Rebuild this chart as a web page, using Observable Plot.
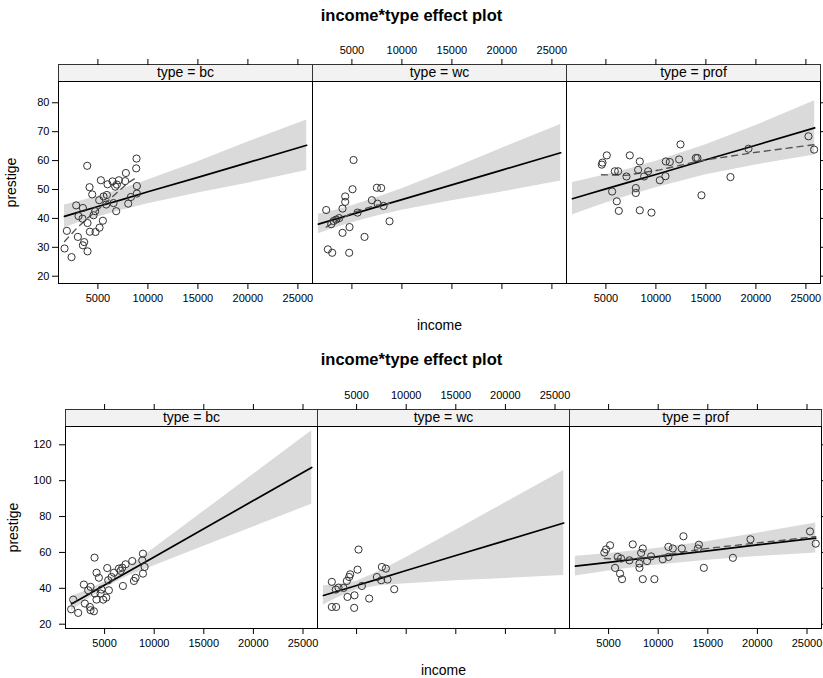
<!DOCTYPE html>
<html><head><meta charset="utf-8">
<script src="https://cdn.jsdelivr.net/npm/d3@7"></script>
<script src="https://cdn.jsdelivr.net/npm/@observablehq/plot@0.6"></script>
<style>
body{margin:0;background:#fff;font-family:"Liberation Sans",Arial,Helvetica,sans-serif;}
#fig{position:relative;width:823px;height:678px;overflow:hidden;background:#fff;}
.title{position:absolute;left:0;width:823px;text-align:center;font-weight:bold;font-size:16.5px;line-height:20px;color:#000;}
</style></head><body><div id="fig"></div><script>
// ---------------- data ----------------
const types = ["bc", "wc", "prof"];
const stripLabels = ["type = bc", "type = wc", "type = prof"];
const titleText = "income*type effect plot";
const xLabel = "income";
const yLabel = "prestige";
const xTicks = [5000, 10000, 15000, 20000, 25000];
const yTicksTop = [20, 30, 40, 50, 60, 70, 80];
const yTicksBottom = [20, 40, 60, 80, 100, 120];
const gridIncome = [1656, 3000, 5000, 7500, 10000, 15000, 20000, 25879];

// upper figure: fitted effect and confidence band
const fitTopBc = [40.7, 42.1, 44.1, 46.6, 49.2, 54.2, 59.3, 65.3];
const loTopBc  = [36.8, 38.4, 40.5, 42.9, 45.1, 48.8, 52.2, 56.6];
const hiTopBc  = [44.6, 45.8, 47.7, 50.3, 53.3, 59.6, 66.4, 74.0];
const fitTopWc = [38.0, 39.4, 41.4, 44.0, 46.5, 51.6, 56.7, 62.7];
const loTopWc  = [34.7, 36.3, 38.5, 40.8, 42.8, 46.1, 49.1, 52.9];
const hiTopWc  = [41.4, 42.5, 44.4, 47.2, 50.3, 57.1, 64.3, 72.5];
const fitTopProf = [46.8, 48.2, 50.2, 52.7, 55.2, 60.3, 65.3, 71.3];
const loTopProf  = [41.2, 42.9, 45.3, 48.1, 50.6, 55.1, 58.5, 61.9];
const hiTopProf  = [52.4, 53.5, 55.1, 57.3, 59.8, 65.5, 72.1, 80.7];

// lower figure: fitted effect and confidence band
const fitBotBc = [31.3, 35.5, 41.8, 49.7, 57.5, 73.2, 88.9, 107.4];
const loBotBc  = [27.3, 32.6, 40.2, 47.1, 52.6, 63.5, 74.2, 86.9];
const hiBotBc  = [35.4, 38.4, 43.5, 52.3, 62.4, 82.9, 103.6, 127.9];
const fitBotWc = [36.0, 38.2, 41.6, 45.7, 49.9, 58.3, 66.6, 76.4];
const loBotWc  = [30.7, 34.5, 39.2, 41.5, 42.6, 44.2, 45.5, 47.1];
const hiBotWc  = [41.4, 42.0, 44.0, 49.9, 57.2, 72.4, 87.7, 105.7];
const fitBotProf = [52.4, 53.2, 54.5, 56.1, 57.7, 60.9, 64.2, 68.0];
const loBotProf  = [46.9, 48.0, 49.6, 51.4, 53.0, 55.7, 57.7, 59.7];
const hiBotProf  = [57.9, 58.4, 59.4, 60.8, 62.4, 66.1, 70.7, 76.4];

// smoothers of partial residuals (dashed)
const smoothTopBc = [[1663,32.0],[2800,36.3],[4000,40.2],[5500,44.5],[7000,49.2],[8000,52.3],[8897,54.2]];
const smoothTopWc = [[2430,37.0],[3500,39.3],[5000,41.8],[6300,43.4],[7500,44.6],[8760,45.2]];
const smoothTopProf = [[4560,55.1],[7050,54.9],[10390,56.8],[14720,60.1],[20060,62.9],[25823,65.5]];
const smoothBotProf = [[4572,56.6],[7000,56.2],[10000,58.0],[14600,62.0],[20000,65.3],[25880,68.8]];

// partial residuals [income, prestige]
const resTopBc = [[1663,29.6],[1897,35.7],[2363,26.6],[2830,44.5],[3063,40.8],[2997,33.6],[3497,43.6],[3463,39.9],[3630,31.8],[3497,30.7],[3963,38.4],[3963,28.6],[3930,58.2],[4163,50.8],[4430,48.3],[4197,35.4],[4563,41.1],[4730,42.5],[4763,35.3],[5163,36.8],[5297,53.2],[5130,46.3],[5497,39.2],[5563,47.6],[5897,48.1],[5830,44.8],[5963,51.8],[6463,52.8],[6563,45.3],[6830,42.5],[6897,51.7],[7097,53.2],[6730,51.0],[7797,55.7],[7730,52.9],[8030,45.1],[8297,47.4],[8863,60.7],[8830,57.3],[8897,51.2],[8897,48.6]];
const resTopWc = [[5163,60.2],[2430,42.9],[5063,50.1],[4330,47.6],[4330,45.7],[4063,43.4],[3730,40.1],[3163,39.1],[2930,38.0],[5563,42.0],[7497,50.6],[7930,50.5],[6997,46.3],[7563,45.1],[8163,44.3],[8763,39.0],[4763,37.0],[4063,35.0],[6263,33.6],[2597,29.3],[3030,28.1],[4730,28.1],[3430,39.6]];
const resTopProf = [[5090,61.8],[4657,59.3],[4590,58.6],[7390,61.8],[8390,59.7],[5890,56.3],[6223,56.3],[7057,54.5],[8223,56.8],[9223,56.3],[8823,54.5],[5623,49.3],[7990,50.5],[7990,48.8],[6090,45.9],[6290,42.6],[8390,42.8],[9557,42.0],[10390,53.2],[10957,54.6],[10990,59.7],[11390,59.5],[12323,60.4],[12457,65.6],[13990,60.9],[14157,60.9],[14557,48.0],[17457,54.3],[19257,64.1],[25257,68.4],[25823,63.8]];
const resBotBc = [[3987,57.1],[8865,59.3],[8797,55.6],[7788,55.2],[7115,53.4],[5265,51.3],[6443,51.0],[6779,51.5],[6611,49.7],[5938,48.7],[4188,48.7],[4424,45.9],[9033,51.9],[8865,48.2],[8125,45.8],[7956,44.1],[5702,46.3],[5366,44.5],[6846,41.3],[2910,42.1],[3583,40.8],[3348,38.9],[4020,37.1],[4693,39.3],[4592,37.1],[5433,38.9],[4188,33.7],[4861,33.7],[5164,34.8],[1834,33.7],[3011,31.5],[3516,29.6],[3583,27.8],[1632,28.3],[3920,27.2],[2338,26.3]];
const resBotWc = [[5194,61.6],[2503,43.6],[5093,50.4],[4353,47.8],[4252,46.3],[4017,44.1],[3680,40.2],[3176,40.4],[2906,39.3],[5530,41.3],[7549,51.9],[7953,51.0],[7044,46.3],[7481,44.5],[8121,44.9],[8793,39.5],[4790,36.1],[4084,35.2],[6270,34.3],[2503,29.6],[2940,29.6],[4757,29.1]];
const resBotProf = [[5147,64.0],[4743,61.7],[4572,59.9],[7437,64.5],[8446,62.2],[8278,59.7],[5923,57.5],[6257,56.6],[7101,55.6],[8110,53.8],[8110,51.4],[8880,55.2],[9283,57.8],[5651,51.4],[6155,48.2],[6357,45.1],[8446,45.1],[9617,45.1],[10464,56.2],[11029,57.5],[11029,63.1],[11473,62.2],[12381,62.2],[12543,69.0],[14100,64.3],[14000,62.2],[14600,51.4],[17527,57.0],[19300,67.3],[25300,71.7],[25880,64.9]];

// ---------------- drawing ----------------
const FONT = '"Liberation Sans", Arial, Helvetica, sans-serif';
const TICK_FS = 11;
const fig = document.getElementById("fig");
const xDomain = [1060, 26460];
const fmt = d => String(d);
const blank = () => "";

function band(fit, lo, hi) {
  return gridIncome.map((x, i) => ({x, fit: fit[i], lo: lo[i], hi: hi[i]}));
}
function place(el, left, top) {
  el.style.position = "absolute";
  el.style.left = left + "px";
  el.style.top = top + "px";
  fig.appendChild(el);
}
function addTitle(top) {
  const d = document.createElement("div");
  d.className = "title";
  d.style.top = top + "px";
  d.textContent = titleText;
  fig.appendChild(d);
}
function strip(label, left, top, w, withLabels) {
  const mT = 32, sh = 17;
  const p = Plot.plot({
    width: w, height: sh + mT, marginTop: mT, marginLeft: 0, marginRight: 0, marginBottom: 0,
    x: {domain: xDomain, axis: null},
    style: {background: "transparent", overflow: "visible", fontFamily: FONT, fontSize: TICK_FS + "px", color: "#000"},
    marks: [
      Plot.frame({fill: "#f2f2f2", stroke: "#333"}),
      Plot.text([label], {frameAnchor: "middle", text: d => d, fontSize: 14, fill: "#000"}),
      Plot.axisX({anchor: "top", ticks: xTicks, tickSize: 6, tickPadding: 5, fontSize: TICK_FS,
        tickFormat: withLabels ? fmt : blank, label: null})
    ]
  });
  place(p, left, top - sh - mT);
}
function panel(o) {
  const mL = 70, mR = 30, mT = 4, mB = 60;
  const marks = [
    Plot.areaY(o.band, {x: "x", y1: "lo", y2: "hi", fill: "#dadada"}),
    Plot.line(o.band, {x: "x", y: "fit", stroke: "#000", strokeWidth: 1.7})
  ];
  if (o.smooth) marks.push(Plot.line(o.smooth, {x: d => d[0], y: d => d[1], stroke: "#555", strokeWidth: 1.4, strokeDasharray: "6,5"}));
  marks.push(Plot.dot(o.pts, {x: d => d[0], y: d => d[1], r: 3.6, stroke: "#333", strokeWidth: 1, fill: "none"}));
  marks.push(Plot.frame({stroke: "#000"}));
  if (o.pos === "left") {
    marks.push(Plot.axisY({anchor: "left", ticks: o.yTicks, tickSize: 6, tickPadding: o.yPad, tickFormat: fmt, fontSize: TICK_FS,
      label: yLabel, labelAnchor: "center", labelOffset: o.yLabelOffset, labelArrow: "none"}));
  }
  if (o.pos === "right") {
    marks.push(Plot.axisY({anchor: "right", ticks: o.yTicks, tickSize: 6, tickFormat: blank, label: null}));
  }
  if (o.pos === "middle") {
    marks.push(Plot.axisX({anchor: "bottom", ticks: xTicks, tickSize: 6, tickPadding: 5, tickFormat: blank, fontSize: TICK_FS,
      label: xLabel, labelAnchor: "center", labelOffset: 46, labelArrow: "none"}));
  } else {
    marks.push(Plot.axisX({anchor: "bottom", ticks: xTicks, tickSize: 6, tickPadding: 5, tickFormat: fmt, fontSize: TICK_FS, label: null}));
  }
  const p = Plot.plot({
    width: o.w + mL + mR, height: o.h + mT + mB,
    marginLeft: mL, marginRight: mR, marginTop: mT, marginBottom: mB,
    x: {domain: xDomain, axis: null},
    y: {domain: o.yDomain, axis: null},
    style: {background: "transparent", overflow: "visible", fontFamily: FONT, fontSize: TICK_FS + "px", color: "#000"},
    marks
  });
  p.querySelectorAll("g[aria-label$='axis label'] text").forEach(t => t.style.fontSize = "14px");
  place(p, o.left - mL, o.top - mT);
}

function figure(cfg) {
  addTitle(cfg.titleTop);
  const pos = ["left", "middle", "right"];
  types.forEach((t, i) => {
    strip(stripLabels[i], cfg.lefts[i], cfg.top, cfg.w, pos[i] === "middle");
    panel({left: cfg.lefts[i], top: cfg.top, w: cfg.w, h: cfg.h, yDomain: cfg.yDomain, yTicks: cfg.yTicks,
      yPad: cfg.yPad, yLabelOffset: cfg.yLabelOffset,
      pos: pos[i], band: cfg.bands[i], smooth: cfg.smooths[i], pts: cfg.pts[i]});
  });
}

figure({
  titleTop: 5, lefts: [58, 312, 566], w: 254, top: 81, h: 202,
  yDomain: [17.48, 87.36], yTicks: yTicksTop, yPad: 3, yLabelOffset: 52,
  bands: [band(fitTopBc, loTopBc, hiTopBc), band(fitTopWc, loTopWc, hiTopWc), band(fitTopProf, loTopProf, hiTopProf)],
  smooths: [smoothTopBc, smoothTopWc, smoothTopProf],
  pts: [resTopBc, resTopWc, resTopProf]
});
figure({
  titleTop: 349, lefts: [65, 317, 569], w: 252, top: 426, h: 202,
  yDomain: [17.6, 130.2], yTicks: yTicksBottom, yPad: 8, yLabelOffset: 57,
  bands: [band(fitBotBc, loBotBc, hiBotBc), band(fitBotWc, loBotWc, hiBotWc), band(fitBotProf, loBotProf, hiBotProf)],
  smooths: [null, null, smoothBotProf],
  pts: [resBotBc, resBotWc, resBotProf]
});
</script></body></html>
